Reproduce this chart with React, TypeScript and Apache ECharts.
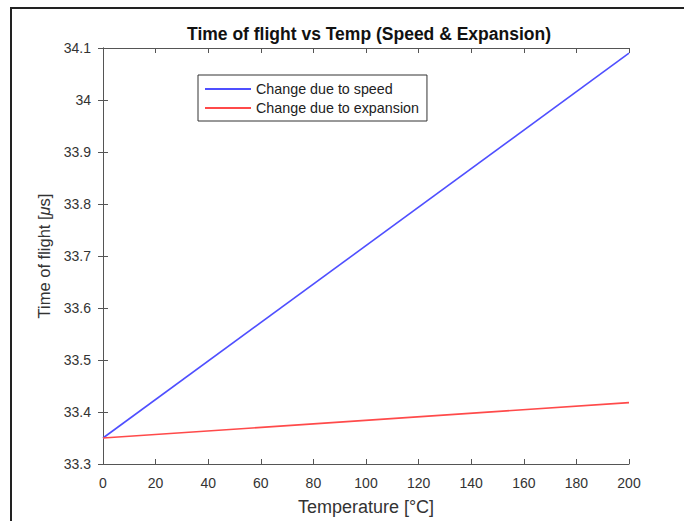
import React, { useEffect, useRef } from "react";
import * as echarts from "echarts";

const temps = [0, 200];
const speedSeries = [33.35, 34.09];
const expansionSeries = [33.35, 33.418];
const seriesNames = ["Change due to speed", "Change due to expansion"];
const titleText = "Time of flight vs Temp (Speed & Expansion)";

export default function App() {
  const ref = useRef<HTMLDivElement>(null);
  useEffect(() => {
    const chart = echarts.init(ref.current!, null, { renderer: "svg" });
    const font = "'Liberation Sans', Arial, sans-serif";
    const axisColor = "#555";
    const labelColor = "#333";
    const fmt = (v: number) => String(parseFloat(Number(v).toFixed(1)));
    chart.setOption({
      animation: false,
      backgroundColor: "#fff",
      textStyle: { fontFamily: font },
      title: {
        text: titleText,
        left: 364,
        textAlign: "center",
        top: 20,
        textStyle: { fontSize: 17.5, fontWeight: "bold", color: "#111", fontFamily: font },
      },
      graphic: [
        {
          type: "rect",
          shape: { x: 11, y: 8, width: 760, height: 600 },
          style: { fill: "none", stroke: "#222", lineWidth: 2 },
          silent: true,
        },
      ],
      legend: {
        orient: "vertical",
        left: 198,
        top: 75,
        width: 229,
        data: seriesNames,
        icon: "rect",
        itemWidth: 46,
        itemHeight: 2,
        itemGap: 5,
        itemTextGap: 5,
        padding: [7, 8, 6, 7],
        borderColor: "#333",
        borderWidth: 1,
        backgroundColor: "#fff",
        textStyle: { fontSize: 14.3, color: "#222", fontFamily: font },
      },
      grid: { left: 103, top: 48, right: 55, bottom: 57 },
      xAxis: [
        {
          type: "value",
          min: 0,
          max: 200,
          interval: 20,
          name: "Temperature [°C]",
          nameLocation: "middle",
          nameGap: 34,
          nameTextStyle: { fontSize: 18, color: labelColor, fontFamily: font },
          axisLine: { show: true, lineStyle: { color: axisColor } },
          axisTick: { show: true, inside: true, length: 5, lineStyle: { color: axisColor } },
          axisLabel: { fontSize: 14, color: labelColor, margin: 12, fontFamily: font },
          splitLine: { show: false },
        },
        {
          type: "value",
          position: "top",
          min: 0,
          max: 200,
          interval: 20,
          axisLine: { show: true, lineStyle: { color: axisColor } },
          axisTick: { show: true, inside: true, length: 5, lineStyle: { color: axisColor } },
          axisLabel: { show: false },
          splitLine: { show: false },
        },
      ],
      yAxis: [
        {
          type: "value",
          min: 33.3,
          max: 34.1,
          interval: 0.1,
          name: "{a|Time of flight [}{b|μ}{a|s]}",
          nameLocation: "middle",
          nameGap: 40,
          nameTextStyle: {
            rich: {
              a: { fontSize: 16.5, color: labelColor, fontFamily: font },
              b: { fontSize: 16.5, color: labelColor, fontFamily: font, fontStyle: "italic" },
            },
          },
          axisLine: { show: true, lineStyle: { color: axisColor } },
          axisTick: { show: true, inside: true, length: 5, lineStyle: { color: axisColor } },
          axisLabel: { fontSize: 14, color: labelColor, margin: 12, formatter: fmt, fontFamily: font },
          splitLine: { show: false },
        },
        {
          type: "value",
          position: "right",
          min: 33.3,
          max: 34.1,
          interval: 0.1,
          axisLine: { show: true, lineStyle: { color: axisColor } },
          axisTick: { show: true, inside: true, length: 5, lineStyle: { color: axisColor } },
          axisLabel: { show: false },
          splitLine: { show: false },
        },
      ],
      series: [
        {
          name: seriesNames[0],
          type: "line",
          data: temps.map((t, i) => [t, speedSeries[i]]),
          showSymbol: false,
          lineStyle: { color: "#4f4fff", width: 1.6 },
          itemStyle: { color: "#4f4fff" },
        },
        {
          name: seriesNames[1],
          type: "line",
          data: temps.map((t, i) => [t, expansionSeries[i]]),
          showSymbol: false,
          lineStyle: { color: "#ff4a4a", width: 1.6 },
          itemStyle: { color: "#ff4a4a" },
        },
      ],
    });
    return () => chart.dispose();
  }, []);
  return (
    <div
      ref={ref}
      style={{ position: "absolute", left: 0, top: 0, width: 684, height: 521 }}
    />
  );
}
